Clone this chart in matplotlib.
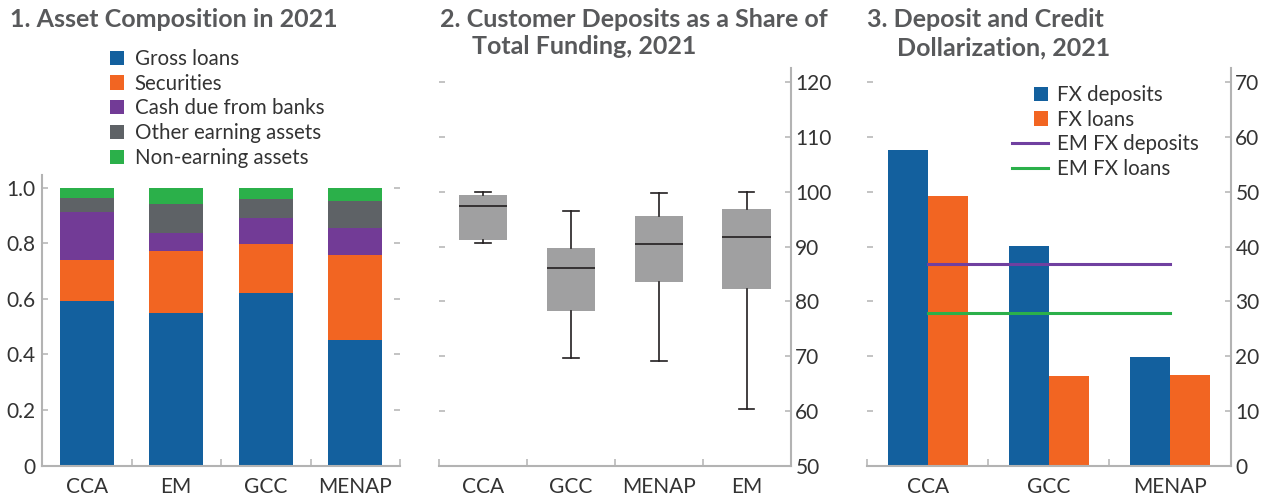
"""
Three-panel chart: asset composition, customer deposits share, dollarization (2021).
"""

import matplotlib
matplotlib.use("Agg")
import matplotlib.pyplot as plt
from matplotlib.patches import Rectangle
from matplotlib.legend_handler import HandlerPatch

plt.rcParams["font.family"] = ["Lato", "DejaVu Sans"]

# ---- data ----
# Panel 1: asset composition (shares of total assets)
p1_regions = ["CCA", "EM", "GCC", "MENAP"]
p1_series = ["Gross loans", "Securities", "Cash due from banks",
             "Other earning assets", "Non-earning assets"]
gross_loans = [0.59, 0.55, 0.62, 0.453]
securities = [0.148, 0.223, 0.175, 0.306]
cash_due = [0.174, 0.065, 0.097, 0.094]
other_earning = [0.05, 0.101, 0.068, 0.097]
non_earning = [0.038, 0.061, 0.04, 0.05]

# Panel 2: customer deposits as share of total funding (box stats)
p2_regions = ["CCA", "GCC", "MENAP", "EM"]
p2_whislo = [90.7, 69.6, 69.1, 60.4]
p2_q1 = [91.3, 78.3, 83.6, 82.3]
p2_med = [97.5, 86.1, 90.4, 91.7]
p2_q3 = [99.4, 89.7, 95.6, 96.9]
p2_whishi = [100.0, 96.6, 99.8, 100.0]

# Panel 3: dollarization
p3_regions = ["CCA", "GCC", "MENAP"]
fx_deposits = [57.7, 40.1, 19.8]
fx_loans = [49.3, 16.3, 16.5]
em_fx_deposits = 36.8
em_fx_loans = 27.8

# ---- style ----
BLUE = "#13609e"
ORANGE = "#f26522"
PURPLE = "#723b96"
DGREY = "#5e6266"
GREEN = "#2bb04a"
BOXGREY = "#a0a0a1"
LINEPURPLE = "#7040a0"
TITLE_C = "#58595b"
TEXT_C = "#333333"
AXIS_C = "#b3b3b3"
FS = 15
FS_LEG = 14.8

W, H = 1267, 496
fig = plt.figure(figsize=(W / 100, H / 100), dpi=100)


def fx(px):
    return px / W


def fy(py):
    return 1 - py / H


def style_axis(ax, side):
    for s in ax.spines.values():
        s.set_visible(False)
    ax.spines["bottom"].set_visible(True)
    ax.spines["bottom"].set_color(AXIS_C)
    ax.spines["bottom"].set_linewidth(1.5)
    ax.spines[side].set_visible(True)
    ax.spines[side].set_color(AXIS_C)
    ax.spines[side].set_linewidth(1.5)
    ax.tick_params(axis="y", which="major", direction="in", length=4.5, width=1.1,
                   color=AXIS_C, left=True, right=True,
                   labelleft=(side == "left"), labelright=(side == "right"),
                   labelsize=FS, labelcolor=TEXT_C, pad=4)
    ax.tick_params(axis="x", which="major", length=0, labelsize=FS,
                   labelcolor=TEXT_C, pad=8)
    ax.tick_params(axis="x", which="minor", direction="in", length=5, width=1.1,
                   color=AXIS_C)


class SquareRight(HandlerPatch):
    def __init__(self):
        super().__init__(patch_func=self._square)

    @staticmethod
    def _square(legend, orig_handle, xdescent, ydescent, width, height, fontsize):
        side = height
        return Rectangle((-xdescent + width - side, -ydescent + (height - side) / 2), side, side)


bottom = fy(465.5)

# ---- Panel 1 ----
ax1 = fig.add_axes([fx(42), bottom, fx(400) - fx(42), fy(175) - bottom])
x1 = list(range(len(p1_regions)))
stacks = [gross_loans, securities, cash_due, other_earning, non_earning]
colors1 = [BLUE, ORANGE, PURPLE, DGREY, GREEN]
base = [0.0] * len(p1_regions)
for vals, col, lab in zip(stacks, colors1, p1_series):
    ax1.bar(x1, vals, width=0.6, bottom=base, color=col, label=lab)
    base = [b + v for b, v in zip(base, vals)]
ax1.set_xlim(-0.5, 3.5)
ax1.set_ylim(0, 1.045)
ax1.set_yticks([0, 0.2, 0.4, 0.6, 0.8, 1.0])
ax1.set_yticklabels(["0", "0.2", "0.4", "0.6", "0.8", "1.0"])
ax1.set_xticks(x1)
ax1.set_xticklabels(p1_regions)
ax1.set_xticks([-0.5, 0.5, 1.5, 2.5, 3.5], minor=True)
style_axis(ax1, "left")
ax1.tick_params(axis="y", pad=4.5)
h1, l1 = ax1.get_legend_handles_labels()
fig.legend(h1, l1, loc="upper left", bbox_to_anchor=(fx(110), fy(49)),
           frameon=False, fontsize=FS_LEG, handlelength=0.7, handleheight=0.7,
           handletextpad=0.5, labelspacing=0.23, borderpad=0, borderaxespad=0,
           labelcolor=TEXT_C)

# ---- Panel 2 ----
ax2 = fig.add_axes([fx(439), bottom, fx(790.5) - fx(439), fy(68) - bottom])
stats = []
for lab, lo, q1, med, q3, hi in zip(p2_regions, p2_whislo, p2_q1, p2_med, p2_q3, p2_whishi):
    stats.append(dict(label=lab, whislo=lo, q1=q1, med=med, q3=q3, whishi=hi, fliers=[]))
ax2.bxp(stats, positions=range(len(stats)), widths=0.55, capwidths=0.18,
        patch_artist=True, showfliers=False,
        boxprops=dict(facecolor=BOXGREY, edgecolor="none", linewidth=0),
        medianprops=dict(color="#231f20", linewidth=1.2),
        whiskerprops=dict(color="#231f20", linewidth=1.2),
        capprops=dict(color="#231f20", linewidth=1.2))
ax2.set_xlim(-0.5, 3.5)
ax2.set_ylim(50, 122.65)
ax2.set_yticks(range(50, 121, 10))
ax2.set_xticks(range(len(p2_regions)))
ax2.set_xticklabels(p2_regions)
ax2.set_xticks([-0.5, 0.5, 1.5, 2.5, 3.5], minor=True)
style_axis(ax2, "right")
ax2.tick_params(axis="y", pad=3.5)

# ---- Panel 3 ----
ax3 = fig.add_axes([fx(867), bottom, fx(1230.5) - fx(867), fy(68) - bottom])
x3 = list(range(len(p3_regions)))
bw = 0.33
b_dep = ax3.bar([x - bw / 2 for x in x3], fx_deposits, width=bw, color=BLUE)
b_loan = ax3.bar([x + bw / 2 for x in x3], fx_loans, width=bw, color=ORANGE)
l_dep, = ax3.plot([x3[0], x3[-1]], [em_fx_deposits] * 2, color=LINEPURPLE, linewidth=2.2)
l_loan, = ax3.plot([x3[0], x3[-1]], [em_fx_loans] * 2, color=GREEN, linewidth=2.2)
ax3.set_xlim(-0.5, 2.5)
ax3.set_ylim(0, 72.65)
ax3.set_yticks(range(0, 71, 10))
ax3.set_xticks(x3)
ax3.set_xticklabels(p3_regions)
ax3.set_xticks([-0.5, 0.5, 1.5, 2.5], minor=True)
style_axis(ax3, "right")
ax3.tick_params(axis="y", pad=3.5)
fig.legend([b_dep.patches[0], b_loan.patches[0], l_dep, l_loan],
           ["FX deposits", "FX loans", "EM FX deposits", "EM FX loans"],
           loc="upper left", bbox_to_anchor=(fx(1012), fy(85)),
           frameon=False, fontsize=FS_LEG, handlelength=1.75, handleheight=0.7,
           handletextpad=0.45, labelspacing=0.23, borderpad=0, borderaxespad=0,
           labelcolor=TEXT_C, handler_map={Rectangle: SquareRight()})

# ---- titles ----
tkw = dict(fontsize=18, fontweight="bold", color=TITLE_C, va="baseline", ha="left")
fig.text(fx(10), fy(27), "1. Asset Composition in 2021", **tkw)
fig.text(fx(440), fy(27), "2. Customer Deposits as a Share of", **tkw)
fig.text(fx(472), fy(54), "Total Funding, 2021", **tkw)
fig.text(fx(867), fy(27), "3. Deposit and Credit", **tkw)
fig.text(fx(897), fy(55), "Dollarization, 2021", **tkw)

fig.savefig("out.png", dpi=100)
